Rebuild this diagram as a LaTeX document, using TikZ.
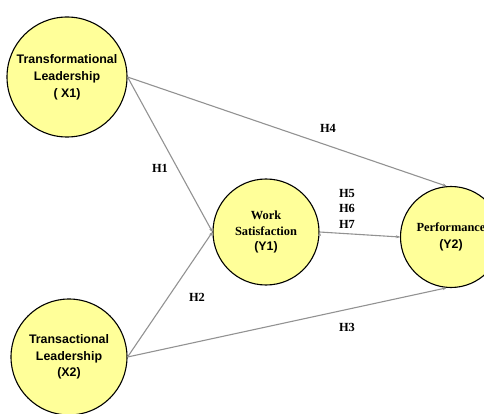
\documentclass[tikz,border=0pt]{standalone}
\usepackage{fontspec}
\setmainfont{Liberation Serif}
\setsansfont{Liberation Sans}
\usepackage{xcolor}
\usepackage{tikz}
\usetikzlibrary{arrows.meta}

\definecolor{latentfill}{HTML}{FFFF99}
\definecolor{linkgray}{HTML}{929292}

\tikzset{
  construct/.style={circle,draw=black,line width=1.1pt,fill=latentfill,
    minimum size=#1,inner sep=0pt,align=center},
  link/.style={draw=linkgray,line width=1.1pt,
    -{Stealth[length=4pt,width=3pt]}},
  hyp/.style={font=\fontsize{12.4}{15.5}\selectfont\bfseries,align=center}
}

\begin{document}
\begin{tikzpicture}[x=1pt,y=-1pt]
  \useasboundingbox (0,0) rectangle (484,414);

  \node[construct=120pt,font=\fontsize{12.4}{17}\selectfont\sffamily\bfseries]
    (X1) at (67,77) {Transformational\\Leadership\\( X1)};
  \node[construct=116pt,font=\fontsize{12.4}{16.5}\selectfont\sffamily\bfseries]
    (X2) at (69,357) {Transactional\\Leadership\\(X2)};
  \node[construct=106pt,font=\fontsize{12.4}{15.5}\selectfont\bfseries]
    (Y1) at (266,232) {Work\\Satisfaction\\{\sffamily(Y1)}};
  \node[construct=101pt,font=\fontsize{12.4}{17}\selectfont\bfseries]
    (Y2) at (451,237) {Performance\\{\sffamily(Y2)}};

  \path[link]
    (X1.east) edge (Y1.west)
              edge (Y2.95)
    (X2.east) edge (Y1.west)
              edge (Y2.265)
    (Y1.east) edge (Y2.west);

  \node[hyp] (h1) at (160,168) {H1};
  \node[hyp] (h2) at (197,297) {H2};
  \node[hyp] (h3) at (347,327) {H3};
  \node[hyp] (h4) at (328,128) {H4};
  \node[hyp] (h567) at (347,208.5) {H5\\H6\\H7};
\end{tikzpicture}
\end{document}
